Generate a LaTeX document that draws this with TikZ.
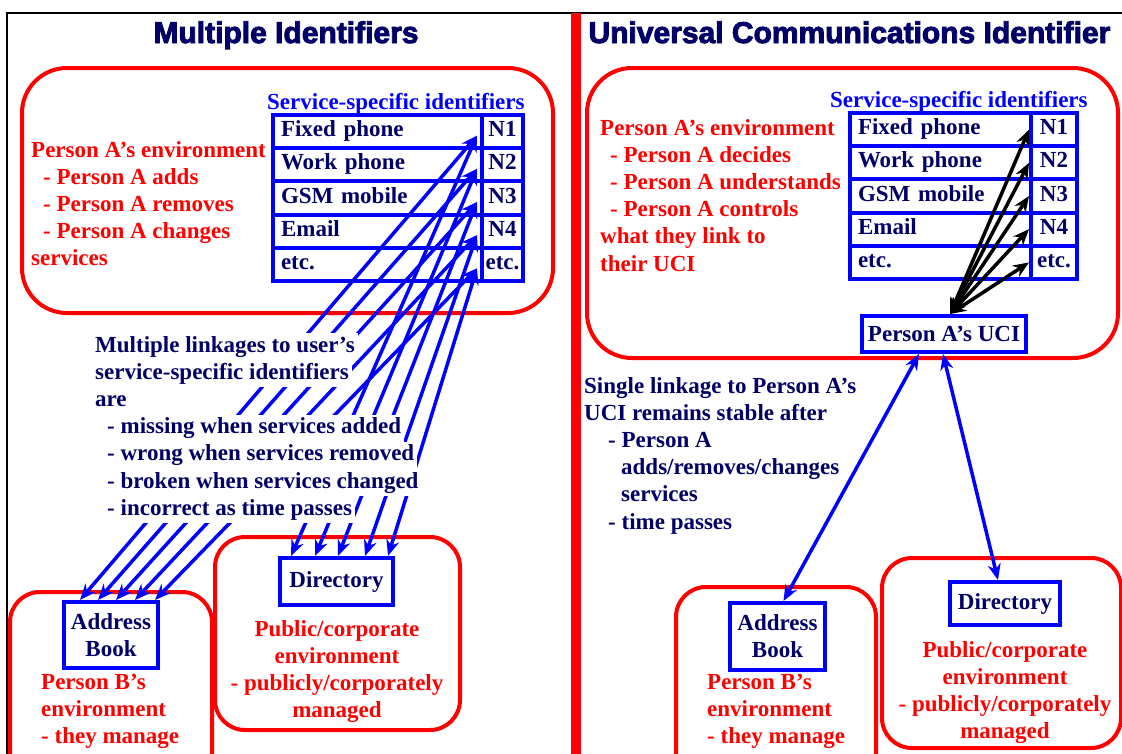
\documentclass[tikz,border=0pt]{standalone}
\usepackage{fontspec}
\setmainfont{Liberation Serif}
\newfontfamily\headfont{Liberation Sans}[BoldFeatures={FakeBold=3}]
\usetikzlibrary{arrows.meta,positioning}
\definecolor{navy}{RGB}{0,0,102}
\newcommand{\txt}{\fontsize{23}{27.2}\selectfont\bfseries}
\newcommand{\ttl}{\headfont\bfseries\fontsize{30}{36}\selectfont}

\begin{document}
\begin{tikzpicture}[x=1pt,y=-1pt]
        \tikzstyle{env}=[draw=red, line width=4pt, rounded corners=30pt]
        \tikzstyle{cell}=[draw=blue, line width=4pt, outer sep=0pt, inner sep=0pt, minimum height=33.2pt, text height=15pt, text depth=5pt, text=navy, font=\txt]
        \tikzstyle{svc}=[cell, inner xsep=8pt, align=left]
        \tikzstyle{num}=[cell, minimum width=41pt]
        \tikzstyle{store}=[draw=blue, line width=4pt, inner sep=2pt, text=navy, font=\txt, align=center]
        \tikzstyle{note}=[text=red, font=\txt, inner sep=0pt, anchor=north west, align=left]
        \tikzstyle{says}=[text=navy, font=\txt, fill=white, inner xsep=3pt, inner ysep=0pt, text height=19pt, text depth=8pt, anchor=base west]
        \tikzstyle{head}=[text=blue, font=\txt, inner sep=0pt, anchor=base west]
        \tikzstyle{link}=[blue, line width=3.5pt, {Stealth[length=16pt,width=13pt]}-{Stealth[length=16pt,width=13pt]}]
        \tikzstyle{uplink}=[link, black, line width=3.5pt]

        \useasboundingbox (0,0) rectangle (1122,753);

        % frame and divider
        \draw[line width=2pt] (7,760) -- (7,13) -- (1130,13);
        \draw[red, line width=10pt] (576,13) -- (576,760);

        % left: multiple identifiers
        \node[font=\ttl, text=navy, anchor=base] (tl) at (286,43) {Multiple Identifiers};
        \draw[env, rounded corners=45pt] (22,68) rectangle (553,313);
        \draw[env] (10,592) rectangle (212,790);
        \draw[env] (215,537) rectangle (460,730);

        \node[head] (sa) at (267,109) {Service-specific identifiers};
        \node[svc, text width=193pt, anchor=north west] (fa) at (273,115) {Fixed phone};
        \node[svc, text width=193pt, below=0pt of fa] (wa) {Work phone};
        \node[svc, text width=193pt, below=0pt of wa] (ga) {GSM mobile};
        \node[svc, text width=193pt, below=0pt of ga] (ea) {Email};
        \node[svc, text width=193pt, below=0pt of ea] (xa) {etc.};
        \node[num, right=0pt of fa] (na1) {N1};
        \node[num, right=0pt of wa] (na2) {N2};
        \node[num, right=0pt of ga] (na3) {N3};
        \node[num, right=0pt of ea] (na4) {N4};
        \node[num, right=0pt of xa] (na5) {etc.};

        \node[note] (pa) at (31,141) {Person A's environment\\\hspace*{12pt}- Person A adds\\\hspace*{12pt}- Person A removes\\\hspace*{12pt}- Person A changes\\services};

        \node[store, minimum width=94pt, minimum height=66pt] (abl) at (111,635) {Address\\Book};
        \node[store, minimum width=113pt, minimum height=47pt] (dirl) at (336.5,581.5) {Directory};
        \node[note] (pb) at (41,674) {Person B's\\environment\\- they manage};
        \node[note, anchor=north, align=center] (pc) at (337,620) {Public/corporate\\environment\\- publicly/corporately\\managed};

        \foreach \i/\a/\d in {1/18/13, 2/36/37, 3/54/60, 4/73/87, 5/93/110} {
          \draw[link] ([xshift=\a pt]abl.north west) -- ([xshift=-5pt,yshift=-4pt]na\i.west);
          \draw[link] ([xshift=\d pt]dirl.north west) -- ([xshift=-5pt,yshift=-4pt]na\i.west);
        }

        \node[says] (lk1) at (92,352) {Multiple linkages to user's};
        \node[says] (lk2) at (92,379.2) {service-specific identifiers};
        \node[says] (lk3) at (92,406.4) {are};
        \node[says] (lk4) at (104,433.6) {- missing when services added};
        \node[says] (lk5) at (104,460.8) {- wrong when services removed};
        \node[says] (lk6) at (104,488) {- broken when services changed};
        \node[says] (lk7) at (104,515.2) {- incorrect as time passes};

        % right: universal communications identifier
        \node[font=\ttl, text=navy, anchor=base west] (tr) at (585,43) {Universal Communications Identifier};
        \draw[env, rounded corners=45pt] (587,68) rectangle (1118,358);
        \draw[env] (676,587) rectangle (876,790);
        \draw[env] (882,558) rectangle (1121,748);

        \node[head] (sb) at (830,107) {Service-specific identifiers};
        \node[svc, text width=165pt, anchor=north west] (fb) at (850,113) {Fixed phone};
        \node[svc, text width=165pt, below=0pt of fb] (wb) {Work phone};
        \node[svc, text width=165pt, below=0pt of wb] (gb) {GSM mobile};
        \node[svc, text width=165pt, below=0pt of gb] (eb) {Email};
        \node[svc, text width=165pt, below=0pt of eb] (xb) {etc.};
        \node[num, minimum width=46pt, right=0pt of fb] (nb1) {N1};
        \node[num, minimum width=46pt, right=0pt of wb] (nb2) {N2};
        \node[num, minimum width=46pt, right=0pt of gb] (nb3) {N3};
        \node[num, minimum width=46pt, right=0pt of eb] (nb4) {N4};
        \node[num, minimum width=46pt, right=0pt of xb] (nb5) {etc.};

        \node[note] (qa) at (600,119) {Person A's environment\\\hspace*{10pt}- Person A decides\\\hspace*{10pt}- Person A understands\\\hspace*{10pt}- Person A controls\\what they link to\\their UCI};

        \node[store, minimum width=164pt, minimum height=36pt] (uci) at (944,334) {Person A's UCI};
        \node[store, minimum width=95pt, minimum height=67pt] (abr) at (777.5,636.5) {Address\\Book};
        \node[store, minimum width=110pt, minimum height=43pt] (dirr) at (1005,603.5) {Directory};
        \node[note] (qb) at (707,674) {Person B's\\environment\\- they manage};
        \node[note, anchor=north, align=center] (qc) at (1005,641) {Public/corporate\\environment\\- publicly/corporately\\managed};

        \node[note, text=navy] (one) at (584,377) {Single linkage to Person A's\\UCI remains stable after\\\hspace*{24pt}- Person A\\\hspace*{37pt}adds/removes/changes\\\hspace*{37pt}services\\\hspace*{24pt}- time passes};

        \foreach \i in {1,...,5}
          \draw[uplink] ([xshift=6pt]uci.north) -- ([xshift=-2pt]nb\i.west);
        \draw[link] ([xshift=-25pt]uci.south) -- ([xshift=6pt]abr.north);
        \draw[link] ([xshift=-1pt]uci.south) -- ([xshift=-7pt]dirr.north);
\end{tikzpicture}
\end{document}
